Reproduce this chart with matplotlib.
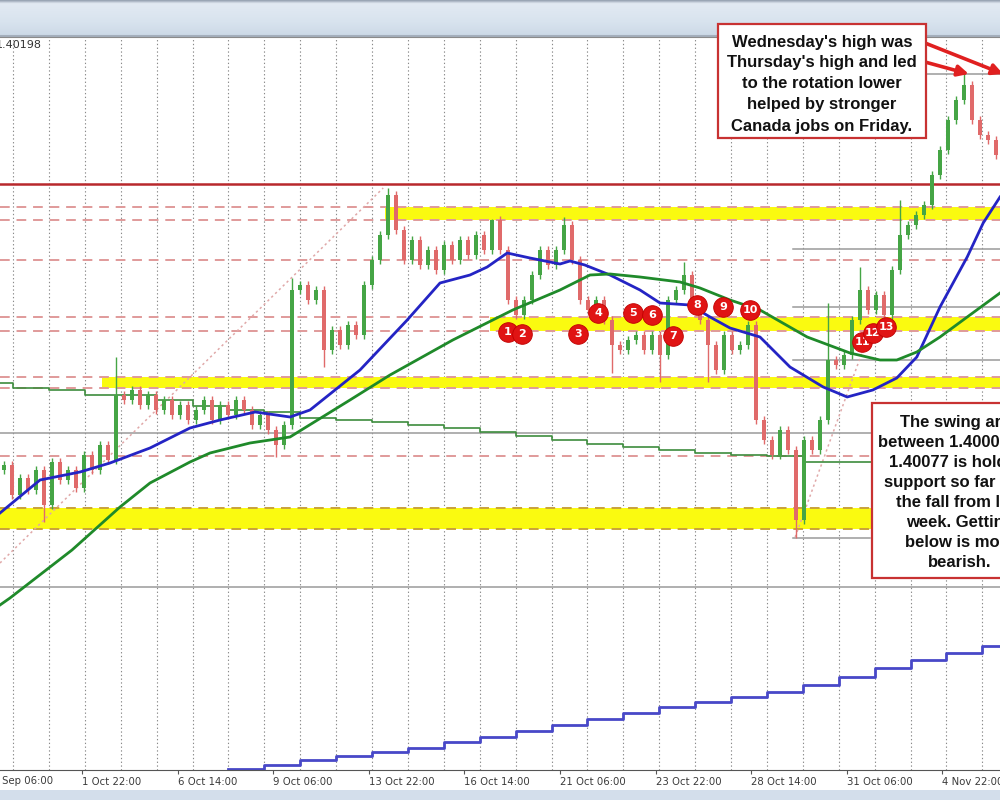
import numpy as np
import matplotlib.pyplot as plt
from matplotlib.patches import Rectangle

# hourly-ish closes, one per bar (bar index = time)
closes = [1.39335, 1.39185, 1.39270, 1.39210, 1.39310, 1.39135, 1.39350, 1.39260, 1.39310, 1.39220,
          1.39385, 1.39310, 1.39435, 1.39360, 1.39685, 1.39660, 1.39710, 1.39635, 1.39685, 1.39610,
          1.39660, 1.39585, 1.39635, 1.39560, 1.39610, 1.39660, 1.39560, 1.39635, 1.39585, 1.39660,
          1.39610, 1.39535, 1.39585, 1.39510, 1.39435, 1.39535, 1.40210, 1.40235, 1.40160, 1.40210,
          1.39910, 1.40010, 1.39935, 1.40035, 1.39985, 1.40235, 1.40360, 1.40485, 1.40685, 1.40510,
          1.40360, 1.40460, 1.40335, 1.40410, 1.40310, 1.40435, 1.40360, 1.40460, 1.40385, 1.40485,
          1.40410, 1.40560, 1.40410, 1.40160, 1.40085, 1.40160, 1.40285, 1.40410, 1.40335, 1.40410,
          1.40535, 1.40360, 1.40160, 1.40110, 1.40160, 1.40060, 1.39935, 1.39910, 1.39960, 1.39985,
          1.39910, 1.39985, 1.39885, 1.40160, 1.40210, 1.40285, 1.40160, 1.40060, 1.39935, 1.39810,
          1.39985, 1.39910, 1.39935, 1.40035, 1.39560, 1.39460, 1.39385, 1.39510, 1.39410, 1.39060,
          1.39460, 1.39410, 1.39560, 1.39860, 1.39835, 1.39885, 1.40060, 1.40210, 1.40110, 1.40185,
          1.40085, 1.40310, 1.40485, 1.40535, 1.40585, 1.40635, 1.40785, 1.40910, 1.41060, 1.41160,
          1.41235, 1.41060, 1.40985, 1.40960, 1.40885]
first_open = 1.39310
spike_highs = {14: 1.39875, 36: 1.40270, 48: 1.40720, 61: 1.40565, 70: 1.40575, 85: 1.40350,
               103: 1.40145, 107: 1.40325, 112: 1.40660, 120: 1.41290}
spike_lows = {5: 1.39050, 34: 1.39375, 40: 1.39825, 76: 1.39795, 82: 1.39750, 88: 1.39750,
              99: 1.38970}

# moving averages (bar, price)
blue_ma_x = [-0.5, 4.5, 9.5, 13.25, 18.25, 23.25, 27, 31.4, 35.75, 38.25, 44.5, 50.4, 54.5, 58.25,
             60.4, 62.9, 65.75, 69.5, 70.75, 72.6, 75.75, 79.5, 82, 85.75, 88.25, 90.75, 94.5,
             98.25, 102.4, 105.4, 108.6, 111.6, 114.1, 117, 120.4, 122.4, 124.5]
blue_ma = [1.39095, 1.39260, 1.39300, 1.39345, 1.39420, 1.39520, 1.39560, 1.39600, 1.39575, 1.39610,
           1.39810, 1.40060, 1.40245, 1.40285, 1.40325, 1.40395, 1.40370, 1.40340, 1.40355, 1.40335,
           1.40285, 1.40210, 1.40145, 1.40135, 1.40075, 1.40020, 1.39975, 1.39825, 1.39725, 1.39675,
           1.39710, 1.39770, 1.39875, 1.40125, 1.40375, 1.40545, 1.40675]
green_ma_x = [-0.5, 0.75, 8.5, 14.5, 18.25, 23.25, 25.75, 30.75, 35.75, 43.25, 48.25, 56.1, 63.6,
              69.5, 73.25, 75.75, 79.5, 84.5, 87, 90.75, 94.5, 100.4, 105.75, 109.5, 111.6, 114.1,
              117, 120.4, 124.5]
green_ma = [1.38635, 1.38670, 1.38910, 1.39125, 1.39245, 1.39350, 1.39395, 1.39445, 1.39475, 1.39660,
            1.39785, 1.39960, 1.40110, 1.40210, 1.40285, 1.40290, 1.40275, 1.40250, 1.40220, 1.40160,
            1.40110, 1.39975, 1.39895, 1.39860, 1.39860, 1.39900, 1.39975, 1.40075, 1.40195]

# higher timeframe step lines (one value per vertical grid line)
step_ma = [1.39745, 1.39720, 1.39710, 1.39685, 1.39685, 1.39660, 1.39630, 1.39610, 1.39600, 1.39570,
           1.39560, 1.39550, 1.39535, 1.39520, 1.39500, 1.39480, 1.39460, 1.39440, 1.39425, 1.39410,
           1.39395, 1.39385, 1.39380, 1.39350, 1.39350, 1.39350, 1.39350, 1.39350, 1.39350]
stair_ma = [1.37815, 1.37835, 1.37860, 1.37880, 1.37900, 1.37920, 1.37950, 1.37975, 1.38005, 1.38035,
            1.38065, 1.38095, 1.38125, 1.38150, 1.38175, 1.38200, 1.38235, 1.38275, 1.38320, 1.38360,
            1.38395, 1.38430]
stair_first_grid = 6

# drawn levels
red_level = 1.40740
dashed_levels = [1.40625, 1.40560, 1.40360, 1.40075, 1.40005, 1.39775, 1.39720, 1.39380]
gold_levels = [1.39120, 1.39015]
bands = [(1.40560, 1.40625, 47.6), (1.40005, 1.40075, 60.75), (1.39720, 1.39775, 12.25),
         (1.39015, 1.39120, -0.5)]
gray_full = [1.39495, 1.38725]
gray_right = [1.40415, 1.40125, 1.39860]
gray_right_from = 98.6
swing_low = (1.38970, 98.6, 108.25)
wed_high = (1.41290, 115.4)
trend_lines = [([-0.5, 47.4], [1.38845, 1.40720]), ([98.9, 107.6], [1.38975, 1.39935])]

circle_labels = ['1', '2', '3', '4', '5', '6', '7', '8', '9', '10', '11', '12', '13']
circle_x = [63.0, 64.75, 71.75, 74.25, 78.6, 81.0, 83.6, 86.6, 89.9, 93.25, 107.25, 108.6, 110.25]
circle_y = [1.40000, 1.39990, 1.39990, 1.40095, 1.40095, 1.40085, 1.39980, 1.40135, 1.40125,
            1.40110, 1.39950, 1.39995, 1.40025]

tick_labels = ['29 Sep 06:00', '1 Oct 22:00', '6 Oct 14:00', '9 Oct 06:00', '13 Oct 22:00',
               '16 Oct 14:00', '21 Oct 06:00', '23 Oct 22:00', '28 Oct 14:00', '31 Oct 06:00',
               '4 Nov 22:00']

note_top = ["Wednesday's high was", "Thursday's high and led", "to the rotation lower",
            "helped by stronger", "Canada jobs on Friday."]
note_right = ["The swing area", "between 1.40005 and", "1.40077 is holding", "support so far after",
              "the fall from last", "week. Getting", "below is more", "bearish."]

W, H = 1000, 800
fig = plt.figure(figsize=(10, 8), dpi=100)
fig.patch.set_facecolor('white')

# window chrome
top = fig.add_axes([0, 1 - 37 / H, 1, 37 / H])
grad = np.linspace(0, 1, 40).reshape(-1, 1)
top.imshow(grad, aspect='auto', extent=[0, 1, 0, 1],
           cmap=plt.matplotlib.colors.LinearSegmentedColormap.from_list(
               'bar', [(0, '#9aa6b5'), (0.08, '#e2eaf3'), (0.6, '#d8e3ee'), (1, '#cbd8e6')]))
top.axhline(0.03, color='#a4afbc', lw=1.5)
top.axis('off')
bot = fig.add_axes([0, 0, 1, 10 / H])
bot.set_facecolor('#d3deeb')
bot.set_xticks([]); bot.set_yticks([])
for s in bot.spines.values():
    s.set_visible(False)

ax = fig.add_axes([0, 30 / H, 1, 733 / H])
xmin, xmax = -0.5, len(closes) - 0.5

# vertical dotted grid
grid_x = [1.125 + 4.4875 * k for k in range(len(step_ma) - 1)]
for g in grid_x:
    ax.axvline(g, color='#8a8a8a', lw=0.8, ls=(0, (1.2, 2.2)), zorder=0.5)

# zones
for lo, hi, x0 in bands:
    ax.fill_between([x0, xmax], lo, hi, color='#fafa10', lw=0, zorder=1)
for lev in dashed_levels:
    ax.axhline(lev, color='#e09a9a', lw=1.4, ls=(0, (5, 3.5)), zorder=1.2)
for lev in gold_levels:
    ax.axhline(lev, color='#c9a23a', lw=1.4, ls=(0, (5, 3.5)), zorder=1.2)
for lev in gray_full:
    ax.axhline(lev, color='#9a9a9a', lw=1.1, zorder=1.2)
for lev in gray_right:
    ax.plot([gray_right_from, xmax], [lev, lev], color='#9a9a9a', lw=1.1, zorder=1.2)
ax.plot([swing_low[1], swing_low[2]], [swing_low[0]] * 2, color='#9a9a9a', lw=1.1, zorder=1.2)
ax.plot([wed_high[1], xmax], [wed_high[0]] * 2, color='#9a9a9a', lw=1.1, zorder=1.2)
ax.axhline(red_level, color='#b8282c', lw=1.8, zorder=1.3)
for tx, ty in trend_lines:
    ax.plot(tx, ty, color='#e0a8a8', lw=1.1, ls=(0, (1.5, 2)), zorder=1.3)

# step lines
step_x = [xmin] + grid_x + [xmax]
ax.step(step_x, step_ma + [step_ma[-1]], where='post', color='#3d8c3d', lw=1.2, zorder=2)
sx = grid_x[stair_first_grid:] + [xmax]
ax.step(sx, stair_ma + [stair_ma[-1]], where='post', color='#4848c8', lw=2.0, zorder=2)

# candles
opens = [first_open] + closes[:-1]
for i, (o, c) in enumerate(zip(opens, closes)):
    col = '#45a545' if c >= o else '#e06a6a'
    hi = spike_highs.get(i, max(o, c) + 0.00022)
    lo = spike_lows.get(i, min(o, c) - 0.00022)
    ax.vlines(i, lo, hi, color=col, lw=1.0, zorder=3)
    ax.bar(i, max(abs(c - o), 0.00004), bottom=min(o, c), width=0.42, color=col, lw=0, zorder=3)

ax.plot(blue_ma_x, blue_ma, color='#2424c4', lw=2.0, zorder=4)
ax.plot(green_ma_x, green_ma, color='#1f8a2a', lw=2.0, zorder=4)

# numbered touches of the swing area
for k, (lab, cx, cy) in enumerate(zip(circle_labels, circle_x, circle_y)):
    ax.scatter([cx], [cy], s=200, color='#e01414', edgecolor='#c00000', lw=0.6, zorder=5 + k * 0.01)
    ax.text(cx, cy, lab, color='white', fontsize=8, fontweight='bold', ha='center', va='center',
            zorder=5.005 + k * 0.01)

tick_pos = [9.75 + 11.95 * k for k in range(-1, len(tick_labels) - 1)]
ax.set_yticks([])
ax.set_xticks(tick_pos[1:])
ax.set_xticklabels(tick_labels[1:], ha='left', fontsize=7.3, color='#3a3a3a')
ax.tick_params(axis='x', length=3, pad=2, color='#555555')
# the first date label starts left of the window and is cut by its edge
ax.text(tick_pos[0], -0.0155, tick_labels[0], transform=ax.get_xaxis_transform(), ha='left',
        va='center', fontsize=7.3, color='#3a3a3a', clip_on=False)
ax.set_xlim(xmin, xmax)
ax.set_ylim(1.37810, 1.41475)
for side in ['left', 'right']:
    ax.spines[side].set_visible(False)
ax.spines['bottom'].set_color('#555555')
ax.spines['top'].set_color('#8a8a8a')

fig.text(-0.004, 1 - 45 / H, '1.40198', fontsize=8, color='#333333', va='center')

# callouts
font = dict(family='Liberation Sans', fontweight='bold', fontsize=12, color='#111111')
fig.add_artist(Rectangle((718 / W, 1 - 138 / H), 208 / W, 114 / H, transform=fig.transFigure,
                         facecolor='white', edgecolor='#c83232', lw=1.6, zorder=6))
for k, line in enumerate(note_top):
    fig.text(822 / W, 1 - (42 + 21 * k) / H, line, ha='center', va='center', zorder=7, **font)
fig.add_artist(Rectangle((872 / W, 1 - 578 / H), 180 / W, 175 / H, transform=fig.transFigure,
                         facecolor='white', edgecolor='#c83232', lw=1.6, zorder=6))
for k, line in enumerate(note_right):
    fig.text(960 / W, 1 - (422 + 20.1 * k) / H, line, ha='center', va='center', zorder=7, **font)

arrow = dict(arrowstyle='-|>', color='#e02020', lw=2.6, mutation_scale=16, shrinkA=0, shrinkB=0)
ax.annotate('', xy=(124.9, wed_high[0]), xytext=(925 / W, 1 - 43 / H),
            textcoords='figure fraction', arrowprops=arrow, annotation_clip=False, zorder=8)
ax.annotate('', xy=(120.6, wed_high[0]), xytext=(925 / W, 1 - 62 / H),
            textcoords='figure fraction', arrowprops=arrow, annotation_clip=False, zorder=8)

fig.savefig('out.png', dpi=100)
